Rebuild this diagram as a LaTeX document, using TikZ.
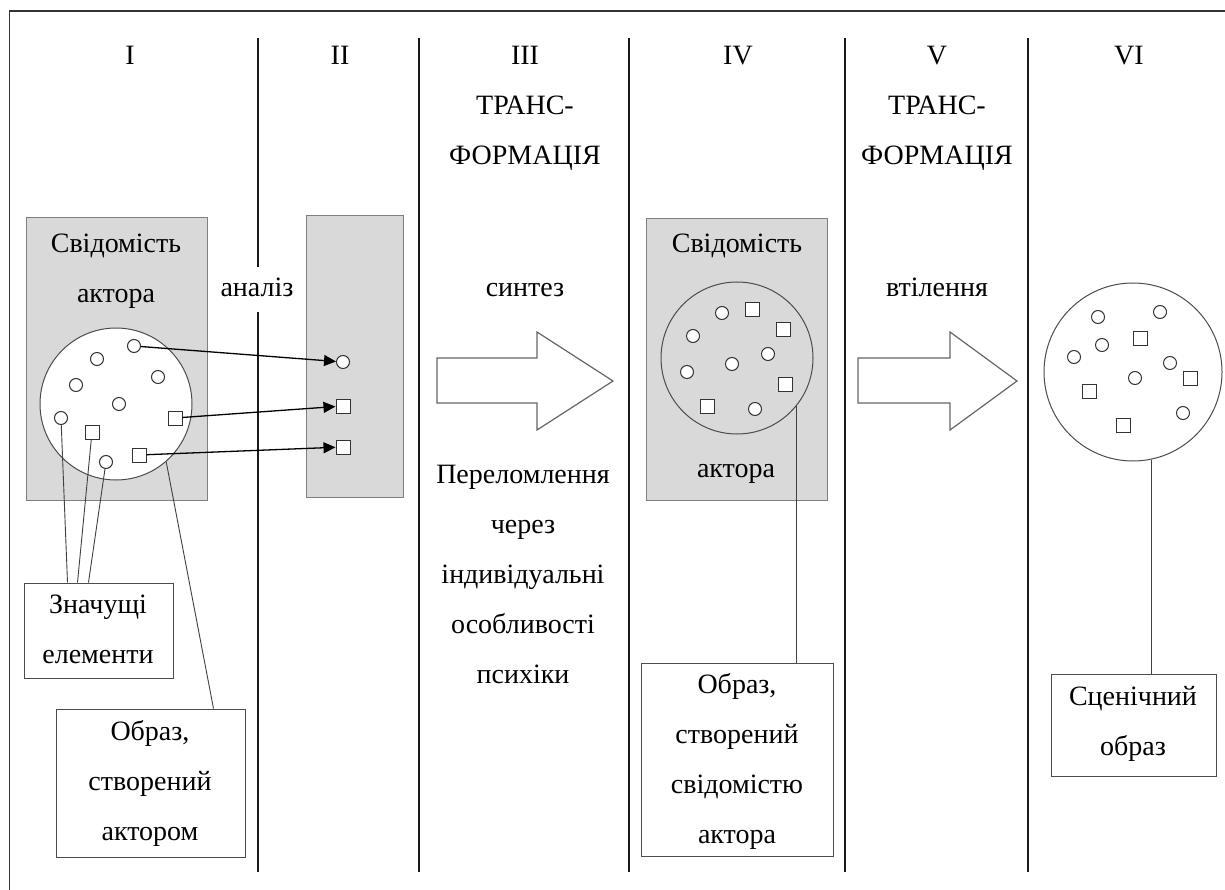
\documentclass[tikz,border=0pt]{standalone}
\usepackage{fontspec}
\setmainfont{Liberation Serif}
\usetikzlibrary{arrows.meta,calc}
% centred multi-line text whose reference point is the first baseline
\newcommand{\txtlines}[1]{\begin{tabular}[t]{@{}c@{}}#1\end{tabular}}

\begin{document}
\begin{tikzpicture}[x=1pt,y=-1pt,
  txt/.style={inner sep=0pt, anchor=base, text=black, font=\fontsize{28}{50}\selectfont},
  graybox/.style={draw=black!50, fill=black!15, line width=1pt, inner sep=0pt},
  whitebox/.style={draw=black!70, fill=white, line width=1pt, inner sep=0pt},
  colsep/.style={line width=2.6pt, black!90},
  frame/.style={line width=1.4pt, black!80},
  dot/.style={circle, draw=black!80, fill=white, line width=1pt, minimum size=13pt, inner sep=0pt},
  sq/.style={rectangle, draw=black!80, fill=white, line width=1pt, minimum size=14pt, inner sep=0pt},
  ring/.style={circle, draw=black!70, line width=1pt, inner sep=0pt},
  arr/.style={-{Triangle[length=12pt,width=11pt]}, line width=1.3pt, black},
  leader/.style={black!75, line width=0.9pt},
  bigarrow/.style={draw=black!60, fill=white, line width=1.2pt, line join=miter}
]
\fill[white] (0,0) rectangle (1225,890);
\useasboundingbox (0,0) rectangle (1225,890);

% outer frame (top and left edges)
\draw[frame] (1225,11) -- (9.5,11) -- (9.5,890);

% column separators
\draw[colsep] (258,38) -- (258,267);
\draw[colsep] (258,312) -- (258,872);
\draw[colsep] (419,38) -- (419,872);
\draw[colsep] (629,38) -- (629,872);
\draw[colsep] (845,38) -- (845,872);
\draw[colsep] (1028,38) -- (1028,872);

% column headings
\node[txt] (h1) at (130,65) {I};
\node[txt] (h2) at (340,65) {II};
\node[txt] (h3) at (525,65) {\txtlines{III\\ТРАНС-\\ФОРМАЦІЯ}};
\node[txt] (h4) at (738,65) {IV};
\node[txt] (h5) at (937,65) {\txtlines{V\\ТРАНС-\\ФОРМАЦІЯ}};
\node[txt] (h6) at (1129,65) {VI};

% ---------- column I ----------
\node[graybox, minimum width=181pt, minimum height=282pt] (g1) at (116.5,359) {};
\node[txt] (g1t) at (116,253) {\txtlines{Свідомість\\актора}};
\node[ring, fill=white, minimum size=152pt] (c1) at (116,404) {};
\node[dot] (a1) at (134,346) {};
\node[dot] (a2) at (97,359) {};
\node[dot] (a3) at (76,385) {};
\node[dot] (a4) at (158,377) {};
\node[dot] (a5) at (119,404) {};
\node[dot] (a6) at (61,418) {};
\node[dot] (a7) at (106,462) {};
\node[sq] (q1) at (175,418) {};
\node[sq] (q2) at (92,432) {};
\node[sq] (q3) at (139,455) {};

\node[whitebox, minimum width=149pt, minimum height=95pt] (zn) at (98.5,630.5) {};
\node[txt] (znt) at (98,613) {\txtlines{Значущі\\елементи}};
\node[whitebox, minimum width=189pt, minimum height=148pt] (o1) at (150.5,783) {};
\node[txt] (o1t) at (150,740) {\txtlines{Образ,\\створений\\актором}};

\coordinate (z1) at ($(zn.north west)+(44,0)$);
\coordinate (z2) at ($(zn.north west)+(54,0)$);
\coordinate (z3) at ($(zn.north west)+(65,0)$);
\coordinate (o1in) at ($(o1.north west)+(158,0)$);
\draw[leader] (a6) -- (z1);
\draw[leader] (q2) -- (z2);
\draw[leader] (a7) -- (z3);
\draw[leader] (c1.-49) -- (o1in);

% ---------- column II ----------
\node[txt] (an) at (257,297) {аналіз};
\node[graybox, minimum width=97pt, minimum height=281pt] (g2) at (354.5,356.5) {};
\node[dot] (b1) at (343,362) {};
\node[sq] (b2) at (343,406) {};
\node[sq] (b3) at (343,447) {};
\draw[arr] (a1) -- (b1);
\draw[arr] (q1) -- (b2);
\draw[arr] (q3) -- (b3);

% ---------- column III ----------
\node[txt] (syn) at (525,297) {синтез};
\draw[bigarrow] (437,358) -- (537,358) -- (537,332) -- (613,381) -- (537,430) -- (537,403) -- (437,403) -- cycle;
\node[txt] (pr) at (523,483) {\txtlines{Переломлення\\через\\індивідуальні\\особливості\\психіки}};

% ---------- column IV ----------
\node[graybox, minimum width=181pt, minimum height=281pt] (g4) at (736.5,359.5) {};
\node[txt] (g4a) at (737,253) {Свідомість};
\node[txt] (g4b) at (736,477) {актора};
\node[ring, minimum size=152pt] (c4) at (737,358) {};
\node[dot] (d1) at (722,313) {};
\node[dot] (d2) at (693,336) {};
\node[dot] (d3) at (687,372) {};
\node[dot] (d4) at (732,364) {};
\node[dot] (d5) at (768,354) {};
\node[dot] (d6) at (755,409) {};
\node[sq] (e1) at (752,310) {};
\node[sq] (e2) at (783,329) {};
\node[sq] (e3) at (785,384) {};
\node[sq] (e4) at (707,406) {};
\node[whitebox, minimum width=192pt, minimum height=193pt] (o4) at (737,759.5) {};
\node[txt] (o4t) at (737,693) {\txtlines{Образ,\\створений\\свідомістю\\актора}};
\draw[leader] (c4.-39) -- (c4.-39 |- o4.north);

% ---------- column V ----------
\node[txt] (vt) at (937,297) {втілення};
\draw[bigarrow] (858,358) -- (950,358) -- (950,332) -- (1017,381) -- (950,430) -- (950,403) -- (858,403) -- cycle;

% ---------- column VI ----------
\node[ring, minimum size=178pt] (c6) at (1133,372) {};
\node[dot] (f1) at (1098,317) {};
\node[dot] (f2) at (1160,312) {};
\node[dot] (f3) at (1102,345) {};
\node[dot] (f4) at (1074,357) {};
\node[dot] (f5) at (1170,363) {};
\node[dot] (f6) at (1135,378) {};
\node[dot] (f7) at (1183,413) {};
\node[sq] (k1) at (1140,338) {};
\node[sq] (k2) at (1190,378) {};
\node[sq] (k3) at (1089,391) {};
\node[sq] (k4) at (1123,425) {};
\node[whitebox, minimum width=165pt, minimum height=102pt] (s6) at (1133.5,725) {};
\node[txt] (s6t) at (1133,705) {\txtlines{Сценічний\\образ}};
\draw[leader] (c6.-78) -- (c6.-78 |- s6.north);
\end{tikzpicture}
\end{document}
